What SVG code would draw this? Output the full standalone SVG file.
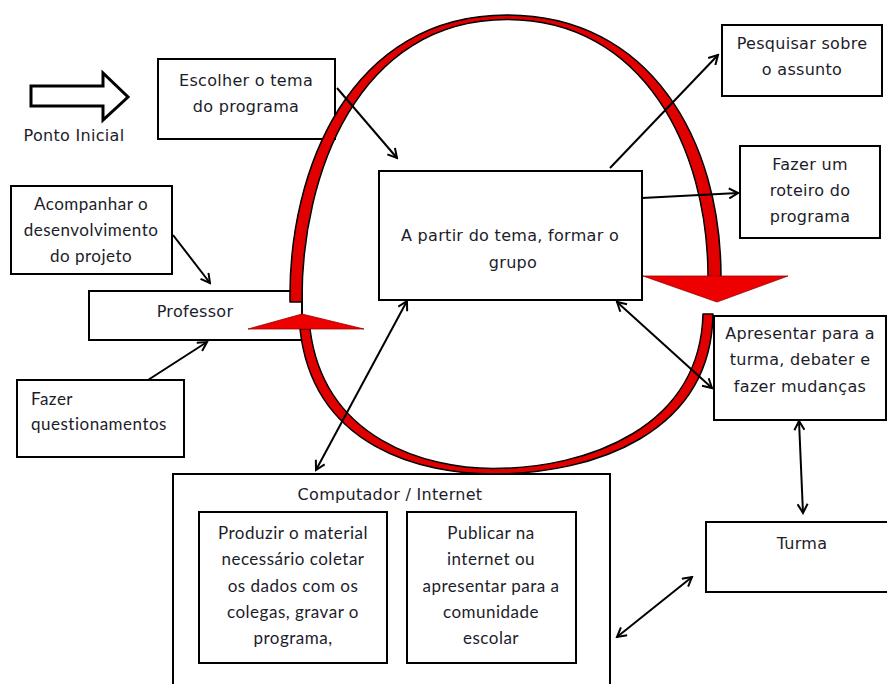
<svg xmlns="http://www.w3.org/2000/svg" width="887" height="684" viewBox="0 0 887 684">
<style>
.box{fill:#fff;stroke:#000;stroke-width:2}
.c{font-family:"DejaVu Sans",sans-serif;font-size:16px;letter-spacing:0.3px;fill:#1c1c2a;text-anchor:middle}
.k{font-family:Lato,"Open Sans",sans-serif;font-size:17px;letter-spacing:0.5px;fill:#1c1c2a;text-anchor:middle}
.ks{text-anchor:start}
.ln{fill:none;stroke:#000;stroke-width:2}
.band{fill:#e00000;stroke:#000;stroke-width:1.5;stroke-linejoin:round}
.head{fill:#ee0000;stroke:#900;stroke-width:0.8}
</style>
<defs>
<marker id="ah" viewBox="0 0 12 12" refX="10" refY="6" markerWidth="12" markerHeight="12" markerUnits="userSpaceOnUse" orient="auto-start-reverse">
<path d="M1,1 L10,6 L1,11" fill="none" stroke="#000" stroke-width="2"/>
</marker>
</defs>
<rect width="887" height="684" fill="#fff"/>

<g id="start">
<polygon points="31,86 103,86 103,73 128,97 103,120 103,106 31,106" fill="#fff" stroke="#000" stroke-width="3" stroke-linejoin="miter"/>
<text class="c" x="74" y="141">Ponto Inicial</text>
</g>

<g id="escolher">
<rect class="box" x="158" y="59" width="177" height="80"/>
<text class="c" x="246" y="86">Escolher o tema</text>
<text class="c" x="246" y="112">do programa</text>
</g>

<g id="pesquisar">
<rect class="box" x="722" y="25" width="160" height="71"/>
<text class="c" x="802" y="49">Pesquisar sobre</text>
<text class="c" x="802" y="75">o assunto</text>
</g>

<g id="roteiro">
<rect class="box" x="740" y="146" width="140" height="92"/>
<text class="c" x="810" y="170">Fazer um</text>
<text class="c" x="810" y="196">roteiro do</text>
<text class="c" x="810" y="222">programa</text>
</g>

<g id="acompanhar">
<rect class="box" x="11" y="186" width="161" height="88"/>
<text class="k" x="91" y="210">Acompanhar o</text>
<text class="k" x="91" y="236">desenvolvimento</text>
<text class="k" x="91" y="262">do projeto</text>
</g>

<g id="professor">
<rect class="box" x="89" y="291" width="213" height="49"/>
<text class="c" x="195" y="317">Professor</text>
</g>

<g id="questionamentos">
<rect class="box" x="17" y="380" width="167" height="77"/>
<text class="k ks" x="31" y="405">Fazer</text>
<text class="k ks" x="31" y="430">questionamentos</text>
</g>

<g id="central">
<rect class="box" x="379" y="171" width="263" height="129"/>
<text class="c" x="510" y="241">A partir do tema, formar o</text>
<text class="c" x="513" y="268">grupo</text>
</g>

<g id="apresentar">
<rect class="box" x="714" y="316" width="172" height="104"/>
<text class="c" x="800" y="339" letter-spacing="-0.3">Apresentar para a</text>
<text class="c" x="800" y="365">turma, debater e</text>
<text class="c" x="800" y="392">fazer mudanças</text>
</g>

<g id="turma">
<rect class="box" x="706" y="522" width="190" height="70"/>
<text class="c" x="802" y="549">Turma</text>
</g>

<g id="computador">
<rect class="box" x="173" y="474" width="437" height="230"/>
<text class="c" x="390" y="500">Computador / Internet</text>
</g>

<g id="produzir">
<rect class="box" x="199" y="512" width="188" height="151"/>
<text class="k" x="293" y="539">Produzir o material</text>
<text class="k" x="293" y="565">necessário coletar</text>
<text class="k" x="293" y="592">os dados com os</text>
<text class="k" x="293" y="618">colegas, gravar o</text>
<text class="k" x="293" y="644">programa,</text>
</g>

<g id="publicar">
<rect class="box" x="407" y="512" width="169" height="151"/>
<text class="k" x="491" y="539">Publicar na</text>
<text class="k" x="491" y="565">internet ou</text>
<text class="k" x="491" y="592">apresentar para a</text>
<text class="k" x="491" y="618">comunidade</text>
<text class="k" x="491" y="644">escolar</text>
</g>

<g id="loop">
<path class="band" d="M290,302 C288,170 350,15 507,15 C650,15 721,140 721,277 L708,277 C708,148 643,19.5 507,19.5 C358,19.5 301,175 302,302 Z"/>
<polygon class="head" points="643,276 788,276 717,302"/>
<path class="band" d="M713,314 C711,434 593,474 493,474 C423,474 313,448 300,329 L310,329 C324,440 427,468.5 493,468.5 C587,468.5 700,428 703,314 Z"/>
<polygon class="head" points="248,329 302,314 364,329"/>
</g>

<g id="connectors">
<line class="ln" x1="337" y1="88" x2="397" y2="158" marker-end="url(#ah)"/>
<line class="ln" x1="610" y1="168" x2="718" y2="55" marker-end="url(#ah)"/>
<line class="ln" x1="642" y1="198" x2="738" y2="193" marker-end="url(#ah)"/>
<line class="ln" x1="173" y1="235" x2="210" y2="283" marker-end="url(#ah)"/>
<line class="ln" x1="148" y1="380" x2="207" y2="342" marker-end="url(#ah)"/>
<line class="ln" x1="407" y1="301" x2="316" y2="470" marker-start="url(#ah)" marker-end="url(#ah)"/>
<line class="ln" x1="617" y1="302" x2="712" y2="388" marker-start="url(#ah)" marker-end="url(#ah)"/>
<line class="ln" x1="799" y1="421" x2="803" y2="513" marker-start="url(#ah)" marker-end="url(#ah)"/>
<line class="ln" x1="692" y1="577" x2="617" y2="637" marker-start="url(#ah)" marker-end="url(#ah)"/>
</g>
</svg>
